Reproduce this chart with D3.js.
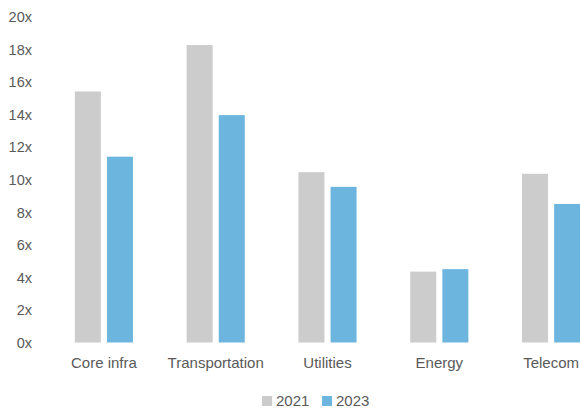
<!DOCTYPE html>
<html>
<head>
<meta charset="utf-8">
<script src="https://cdn.jsdelivr.net/npm/d3@7"></script>
<style>
  html, body { margin: 0; padding: 0; background: #fff; }
  svg text { font-family: "Liberation Sans", Arial, sans-serif; fill: #595959; }
</style>
</head>
<body>
<svg id="chart" width="580" height="411"></svg>
<script>
const categories = ["Core infra", "Transportation", "Utilities", "Energy", "Telecom"];
const seriesNames = ["2021", "2023"];
const values2021 = [15.4, 18.25, 10.45, 4.35, 10.35];
const values2023 = [11.4, 13.95, 9.55, 4.5, 8.5];
const yTicks = [0, 2, 4, 6, 8, 10, 12, 14, 16, 18, 20];
const colors = ["#cccccc", "#6cb5de"];

const svg = d3.select("#chart");
const y = d3.scaleLinear().domain([0, 20]).range([342.5, 16.5]);
const x = d3.scaleBand().domain(categories).range([48, 607]).paddingInner(0.48).paddingOuter(0.24);
const xs = d3.scaleBand().domain(seriesNames).range([0, x.bandwidth()]).paddingInner(0.19);

const rows = categories.map((c, i) => ({ cat: c, vals: [values2021[i], values2023[i]] }));

const g = svg.append("g");
g.selectAll("g.cat").data(rows).join("g")
  .attr("transform", d => `translate(${x(d.cat)},0)`)
  .selectAll("rect").data(d => d.vals.map((v, j) => ({ s: seriesNames[j], v, j })))
  .join("rect")
  .attr("x", d => xs(d.s))
  .attr("width", xs.bandwidth())
  .attr("y", d => y(d.v))
  .attr("height", d => y(0) - y(d.v))
  .attr("fill", d => colors[d.j]);

// y axis
const yAxis = d3.axisLeft(y).tickValues(yTicks).tickFormat(d => d + "x").tickSize(0).tickPadding(0);
const ya = svg.append("g").attr("transform", "translate(32,0)").call(yAxis);
ya.select(".domain").remove();
ya.selectAll("text").style("font-size", "14.5px").attr("dy", "0.35em").attr("fill", "#595959");

// x axis
const xAxis = d3.axisBottom(x).tickSize(0).tickPadding(0);
const xa = svg.append("g").attr("transform", "translate(0,363)").call(xAxis);
xa.select(".domain").remove();
xa.selectAll("text").style("font-size", "15px").attr("dy", "0.35em").attr("fill", "#595959");

// legend
const legend = svg.append("g");
const legendX = [262, 322];
seriesNames.forEach((s, i) => {
  legend.append("rect").attr("x", legendX[i]).attr("y", 396).attr("width", 10).attr("height", 10).attr("fill", colors[i]);
  legend.append("text").attr("x", legendX[i] + 14).attr("y", 401).attr("dy", "0.35em")
    .style("font-size", "15px").text(s);
});
</script>
</body>
</html>
